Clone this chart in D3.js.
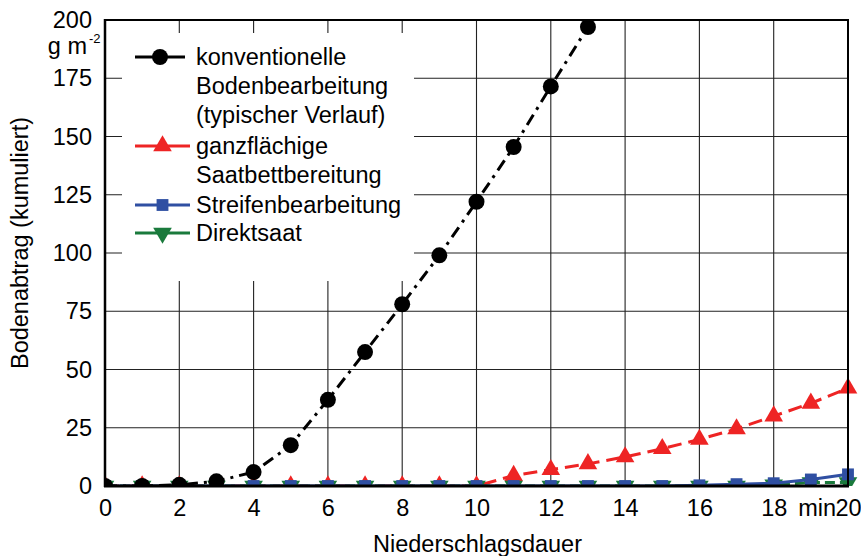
<!DOCTYPE html>
<html>
<head>
<meta charset="utf-8">
<script src="https://cdn.jsdelivr.net/npm/d3@7"></script>
<style>
  body { margin: 0; background: #fff; }
  svg text { font-family: "Liberation Sans", Arial, sans-serif; fill: #000; }
</style>
</head>
<body>
<svg id="chart" width="861" height="556"></svg>
<script>
// ---- data ----
const minutes = [0,1,2,3,4,5,6,7,8,9,10,11,12,13,14,15,16,17,18,19,20];
const konventionell = [0,0,0.5,2,6,17.5,37,57.5,78,99,122,145.5,171.5,197];
const ganzflaechig  = [0,0,0,0,0,0,0,0,0,0,0,4.5,7,9.5,12.5,16,20,24.5,30,35.5,42];
const streifen      = [0,0,0,0,0,0,0,0,0,0,0,0,0,0,0,0,0.3,0.8,1.2,2.8,5];
const direktsaat    = [0,0,0,0,0,0,0,0,0,0,0,0,0,0,0,0,0,0,0.5,1.5,1.5];
const xTicks = [0,2,4,6,8,10,12,14,16,18,20];
const yTicks = [0,25,50,75,100,125,150,175,200];
const legendLabels = [
  ["konventionelle","Bodenbearbeitung","(typischer Verlauf)"],
  ["ganzflächige","Saatbettbereitung"],
  ["Streifenbearbeitung"],
  ["Direktsaat"]
];

const svg = d3.select("#chart");
const L = 105, R = 848, T = 20, B = 486;
const x = d3.scaleLinear().domain([0,20]).range([L,R]);
const y = d3.scaleLinear().domain([0,200]).range([B,T]);
const FS = 23.5;
const FF = '"Liberation Sans", Arial, sans-serif';

// clip
svg.append("defs").append("clipPath").attr("id","clip")
  .append("rect").attr("x",L).attr("y",0).attr("width",R-L+10).attr("height",B);

// grid
const grid = svg.append("g").attr("stroke","#222").attr("stroke-width",1.1);
grid.selectAll("line.h").data(yTicks.slice(1,-1)).join("line")
  .attr("x1",L).attr("x2",R).attr("y1",d=>y(d)).attr("y2",d=>y(d));
grid.selectAll("line.v").data(xTicks.slice(1,-1)).join("line")
  .attr("x1",d=>x(d)).attr("x2",d=>x(d)).attr("y1",T).attr("y2",B);

// series
const series = [
  {v:ganzflaechig, color:"#ee2424", dash:"14,7", sym:d3.symbolTriangle, size:150, rot:0},
  {v:direktsaat, color:"#1a7a3c", dash:"10,5", sym:d3.symbolTriangle, size:150, rot:180},
  {v:streifen, color:"#2f4fa2", dash:null, sym:d3.symbolSquare, size:140, rot:0},
  {v:konventionell, color:"#000", dash:"12,6,3,6", sym:d3.symbolCircle, size:200, rot:0}
];
const line = d3.line().x((d,i)=>x(minutes[i])).y(d=>y(d));
const plot = svg.append("g").attr("clip-path","url(#clip)");
series.forEach(s => {
  plot.append("path").attr("d", line(s.v)).attr("fill","none")
    .attr("stroke", s.color).attr("stroke-width",3)
    .attr("stroke-dasharray", s.dash);
  plot.selectAll(null).data(s.v).join("path")
    .attr("d", d3.symbol(s.sym, s.size))
    .attr("transform",(d,i)=>`translate(${x(minutes[i])},${y(d)}) rotate(${s.rot})`)
    .attr("fill", s.color);
});

// frame
svg.append("line").attr("x1",L).attr("x2",R+1).attr("y1",T).attr("y2",T).attr("stroke","#000").attr("stroke-width",2);
svg.append("line").attr("x1",R).attr("x2",R).attr("y1",T).attr("y2",B).attr("stroke","#000").attr("stroke-width",2);
svg.append("line").attr("x1",L).attr("x2",L).attr("y1",T-1).attr("y2",B+1).attr("stroke","#000").attr("stroke-width",2.5);
svg.append("line").attr("x1",L-1).attr("x2",R+1).attr("y1",B).attr("y2",B).attr("stroke","#000").attr("stroke-width",3);

// legend
const lg = svg.append("g");
lg.append("rect").attr("x",122).attr("y",33).attr("width",292).attr("height",248).attr("fill","#fff");
const legendY = [57,146,205,233];
const legendOrder = [3,0,2,1];
legendOrder.forEach((si,k) => {
  const s = series[si];
  const ly = legendY[k];
  const x2 = si===3 ? 185 : 190;
  lg.append("line").attr("x1",135).attr("x2",x2).attr("y1",ly).attr("y2",ly)
    .attr("stroke",s.color).attr("stroke-width",3);
  lg.append("path").attr("d", d3.symbol(s.sym, s.size)())
    .attr("transform",`translate(${(135+x2)/2},${ly}) rotate(${s.rot})`)
    .attr("fill", s.color);
  legendLabels[k].forEach((t,j) => {
    lg.append("text").attr("x",196).attr("y",ly + j*29).attr("dy","0.35em")
      .attr("font-size",FS).text(t);
  });
});

// y axis labels
const ya = svg.append("g").attr("transform",`translate(${L},0)`)
  .call(d3.axisLeft(y).tickValues(yTicks).tickSize(0).tickPadding(13));
ya.select(".domain").remove();
ya.selectAll("text").attr("font-size",FS).style("font-family",FF).attr("fill","#000");
ya.selectAll(".tick").filter(d=>d===200).select("text").attr("dy","0.33em");
svg.append("text").attr("x",87).attr("y",54).attr("font-size",FS).attr("text-anchor","end").text("g m");
svg.append("text").attr("x",89).attr("y",43).attr("font-size",13).text("-2");

// x axis labels
const xa = svg.append("g").attr("transform",`translate(0,${B})`)
  .call(d3.axisBottom(x).tickValues(xTicks).tickSize(0).tickPadding(13.5));
xa.select(".domain").remove();
xa.selectAll("text").attr("font-size",FS).style("font-family",FF).attr("fill","#000");
svg.append("text").attr("x",836).attr("y",516).attr("font-size",FS).attr("text-anchor","end").text("min");

// titles
svg.append("text").attr("x",(L+R)/2+1).attr("y",552).attr("font-size",FS).attr("text-anchor","middle").text("Niederschlagsdauer");
svg.append("text").attr("transform","translate(28,243) rotate(-90)").attr("font-size",FS).attr("text-anchor","middle").text("Bodenabtrag (kumuliert)");
</script>
</body>
</html>
